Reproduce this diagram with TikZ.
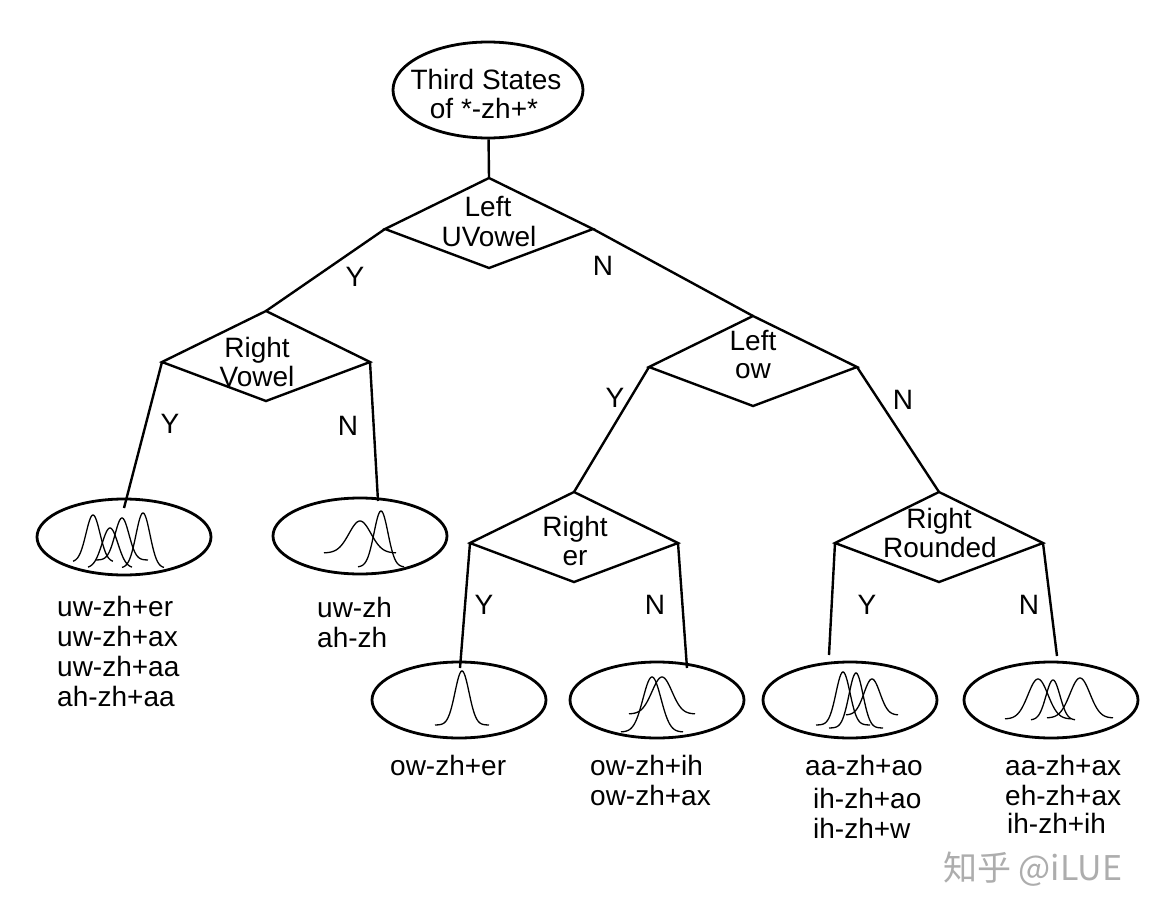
\documentclass[tikz,border=0pt]{standalone}
\usepackage{fontspec}
\setmainfont{Liberation Sans}
\newfontfamily\cjkfont{Noto Sans CJK SC}
\usetikzlibrary{shapes.geometric}
\tikzset{
  x=1pt, y=-1pt,
  edge/.style={line width=2.4pt},
  kiteline/.style={line width=2.4pt, line join=miter},
  leaf/.style={draw, ellipse, line width=2.8pt, minimum width=174pt, minimum height=76pt, inner sep=0pt},
  rootnode/.style={draw, ellipse, line width=2.8pt, minimum width=190pt, minimum height=96pt, inner sep=0pt},
  gline/.style={line width=1.3pt},
  txt/.style={anchor=base, inner sep=0pt, font=\fontsize{28}{30}\selectfont},
  ltxt/.style={anchor=base west, inner sep=0pt, font=\fontsize{28}{30}\selectfont},
  yn/.style={anchor=center, inner sep=0pt, font=\fontsize{28}{30}\selectfont},
}
\newcommand\gcurve[5]{\draw[gline] plot[domain=-#5:#5,samples=60,smooth] ({#1+\x},{#2-#3*exp(-(\x*\x)/(2*#4*#4))});}
\newcommand\kite[3]{%
  \coordinate (#1) at (#2,#3);
  \coordinate (#1n) at ({#2},{#3-51});
  \coordinate (#1s) at ({#2},{#3+39});
  \coordinate (#1w) at ({#2-104},{#3});
  \coordinate (#1e) at ({#2+104},{#3});
  \draw[kiteline] (#1n) -- (#1e) -- (#1s) -- (#1w) -- cycle;}
\begin{document}
\begin{tikzpicture}
\fill[white] (0,0) rectangle (1163,915);
\useasboundingbox (0,0) rectangle (1163,915);

% root
\node[rootnode] (root) at (488,90) {};
\node[txt] (roott1) at (486,90) {Third States};
\node[txt] (roott2) at (484,119) {of *-zh+*};

% decision kites
\kite{d1}{489}{229}
\node[txt] (d1t1) at (488,217) {Left};
\node[txt] (d1t2) at (489,247) {UVowel};

\kite{d2}{266}{362}
\node[txt] (d2t1) at (257,357) {Right};
\node[txt] (d2t2) at (257,386) {Vowel};

\kite{d3}{753}{367}
\node[txt] (d3t1) at (753,350) {Left};
\node[txt] (d3t2) at (753,378) {ow};

\kite{d4}{574}{543}
\node[txt] (d4t1) at (575,536) {Right};
\node[txt] (d4t2) at (575,565) {er};

\kite{d5}{939}{543}
\node[txt] (d5t1) at (939,528) {Right};
\node[txt] (d5t2) at (940,557) {Rounded};

% leaves
\node[leaf] (e1) at (124,537) {};
\node[leaf] (e2) at (360,536) {};
\node[leaf] (e3) at (459,700) {};
\node[leaf] (e4) at (657,700) {};
\node[leaf] (e5) at (850,700) {};
\node[leaf] (e6) at (1051,700) {};

% connector free ends
\coordinate (l1) at (124,508);
\coordinate (l2) at (378,501);
\coordinate (l3) at (460,668);
\coordinate (l4) at (687,668);
\coordinate (l5) at (829,655);
\coordinate (l6) at (1057,656);

% connectors
\draw[edge] (root) -- (d1n);
\draw[edge] (d1w) -- (d2n);
\draw[edge] (d1e) -- (d3n);
\draw[edge] (d2w) -- (l1);
\draw[edge] (d2e) -- (l2);
\draw[edge] (d3w) -- (d4n);
\draw[edge] (d3e) -- (d5n);
\draw[edge] (d4w) -- (l3);
\draw[edge] (d4e) -- (l4);
\draw[edge] (d5w) -- (l5);
\draw[edge] (d5e) -- (l6);

% Y / N labels
\node[yn] (y1) at (355,277) {Y};
\node[yn] (n1) at (603,266) {N};
\node[yn] (y2) at (170,424) {Y};
\node[yn] (n2) at (348,426) {N};
\node[yn] (y3) at (615,398) {Y};
\node[yn] (n3) at (903,400) {N};
\node[yn] (y4) at (484,605) {Y};
\node[yn] (n4) at (655,605) {N};
\node[yn] (y5) at (867,605) {Y};
\node[yn] (n5) at (1029,605) {N};

% gaussian curves
\gcurve{93}{562}{47}{7}{20}
\gcurve{110}{568}{40}{8}{22}
\gcurve{122}{560}{42}{7}{26}
\gcurve{143}{568}{55}{7}{21}

\gcurve{360}{553}{32}{11}{36}
\gcurve{381}{567}{56}{7}{23}

\gcurve{462}{725}{54}{7}{27}

\gcurve{652}{732}{55}{9}{31}
\gcurve{662}{714}{37}{10}{33}

\gcurve{843}{725}{53}{7}{27}
\gcurve{856}{728}{55}{7}{27}
\gcurve{872}{715}{36}{8}{26}

\gcurve{1038}{719}{40}{10}{33}
\gcurve{1053}{720}{40}{7}{22}
\gcurve{1080}{718}{40}{10}{33}

% leaf labels
\node[ltxt] (a1) at (57,616) {uw-zh+er};
\node[ltxt] (a2) at (57,646) {uw-zh+ax};
\node[ltxt] (a3) at (57,676) {uw-zh+aa};
\node[ltxt] (a4) at (57,706) {ah-zh+aa};

\node[ltxt] (b1) at (317,617) {uw-zh};
\node[ltxt] (b2) at (317,647) {ah-zh};

\node[ltxt] (c1) at (390,775) {ow-zh+er};

\node[ltxt] (f1) at (590,775) {ow-zh+ih};
\node[ltxt] (f2) at (590,805) {ow-zh+ax};

\node[ltxt] (g1) at (805,775) {aa-zh+ao};
\node[ltxt] (g2) at (813,808) {ih-zh+ao};
\node[ltxt] (g3) at (813,838) {ih-zh+w};

\node[ltxt] (h1) at (1005,775) {aa-zh+ax};
\node[ltxt] (h2) at (1005,805) {eh-zh+ax};
\node[ltxt] (h3) at (1007,833) {ih-zh+ih};

% watermark
\node[anchor=base west, inner sep=0pt, text=black!32, font=\cjkfont\fontsize{34}{36}\selectfont] (wm) at (943,880) {知乎 @iLUE};
\end{tikzpicture}
\end{document}
